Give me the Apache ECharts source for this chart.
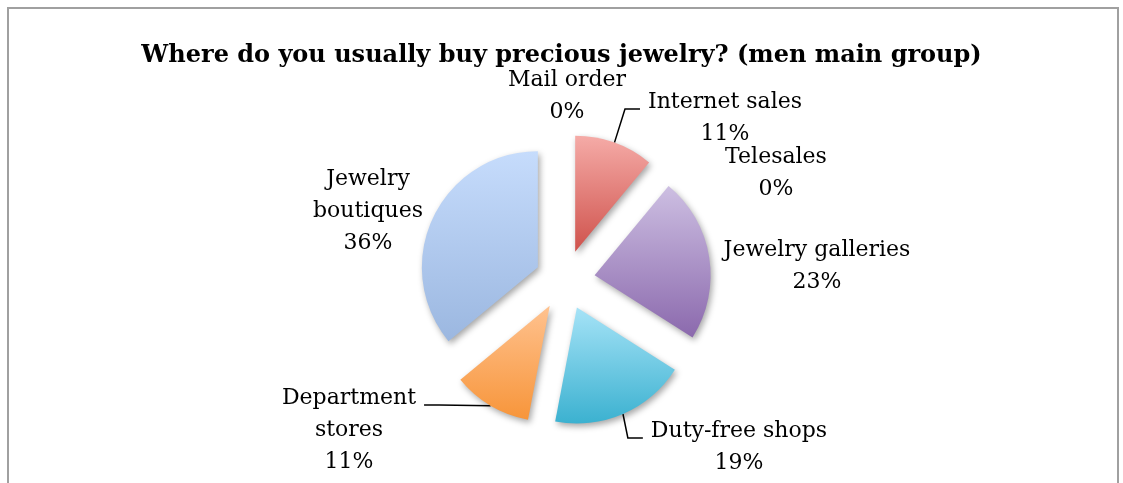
<!DOCTYPE html>
<html>
<head>
<meta charset="utf-8">
<script src="https://cdn.jsdelivr.net/npm/echarts@6/dist/echarts.min.js"></script>
<style>
  html, body { margin: 0; padding: 0; background: #ffffff; }
  #chart { width: 1123px; height: 483px; }
</style>
</head>
<body>
<div id="chart"></div>
<script>
// Survey answers, clockwise from 12 o'clock
const categories = ['Mail order', 'Internet sales', 'Telesales', 'Jewelry galleries', 'Duty-free shops', 'Department stores', 'Jewelry boutiques'];
const shares = [0, 11, 0, 23, 19, 11, 36]; // percent of respondents

// Display text for the labels (line breaks where the name wraps)
const labelNames = ['Mail order', 'Internet sales', 'Telesales', 'Jewelry galleries', 'Duty-free shops', 'Department\nstores', 'Jewelry\nboutiques'];

// Vertical gradient for each slice: light at the top, deeper at the bottom
const topColors = ['#f7b4b0', '#f5aba7', '#f7b4b0', '#cdbfe2', '#a6e3f7', '#ffc28f', '#c6dcfc'];
const bottomColors = ['#d0504b', '#cf524c', '#d0504b', '#8b69ad', '#3bb1d0', '#f7953a', '#9bb7e0'];

// Label block centres, and which labels get a leader line
const labelPos = [[567, 96], [725, 118], [776, 173], [817, 266], [739, 447], [349, 430], [368, 211]];
const hasLeader = [false, true, false, false, true, true, false];

const FONT = 'DejaVu Serif';
const CENTER = [565, 280];
const RADIUS = 116;
const EXPLODE = 30;     // how far each non-empty slice is pulled out
const LINE_H = 32;      // label line height
const LEADER_RUN = 15;  // horizontal run of a leader line next to its label
const LEADER_GAP = 8;   // space between leader line and label text

const chart = echarts.init(document.getElementById('chart'));

const total = shares.reduce((a, b) => a + b, 0);

// Every slice is drawn by its own pie series (all share the same data,
// only one item visible), so it can be pulled out along its mid-angle.
let cumulative = 0;
const series = categories.map((name, i) => {
  const mid = (cumulative + shares[i] / 2) / total * 2 * Math.PI;
  cumulative += shares[i];
  const off = shares[i] > 0 ? EXPLODE : 0;
  const center = [CENTER[0] + off * Math.sin(mid), CENTER[1] - off * Math.cos(mid)];
  // point on the slice's outer arc where its leader line starts
  const anchor = [center[0] + RADIUS * Math.sin(mid), center[1] - RADIUS * Math.cos(mid)];

  const data = categories.map((n, j) => {
    const visible = j === i;
    return {
      name: n,
      value: shares[j],
      itemStyle: visible ? {
        color: new echarts.graphic.LinearGradient(0, 0, 0, 1, [
          { offset: 0, color: topColors[j] },
          { offset: 1, color: bottomColors[j] }
        ]),
        shadowBlur: 6,
        shadowOffsetX: 2,
        shadowOffsetY: 3,
        shadowColor: 'rgba(0,0,0,0.35)'
      } : { color: 'rgba(0,0,0,0)', shadowColor: 'rgba(0,0,0,0)' },
      label: { show: visible },
      labelLine: { show: visible && hasLeader[j] }
    };
  });

  return {
    type: 'pie',
    name: name,
    center: center,
    radius: RADIUS,
    startAngle: 90,
    clockwise: true,
    selectedMode: false,
    avoidLabelOverlap: false,
    silent: true,
    emphasis: { disabled: true },
    itemStyle: { borderWidth: 0 },
    label: {
      formatter: (p) => labelNames[p.dataIndex] + '\n' + p.value + '%',
      fontFamily: FONT,
      fontSize: 22,
      lineHeight: LINE_H,
      color: '#000000',
      align: 'center'
    },
    labelLine: {
      length: 12,
      length2: 14,
      lineStyle: { color: '#000000', width: 1.5 }
    },
    labelLayout: function (params) {
      const idx = params.dataIndex;
      const p = labelPos[idx];
      const out = { x: p[0], y: p[1], align: 'center', verticalAlign: 'middle' };
      if (idx === i && hasLeader[idx]) {
        const w = params.labelRect.width;
        const lines = labelNames[idx].split('\n').length + 1;
        const top = p[1] - lines * LINE_H / 2;
        const attachY = top + 23;
        const rightSide = p[0] > anchor[0];
        const endX = rightSide ? p[0] - w / 2 - LEADER_GAP : p[0] + w / 2 + LEADER_GAP;
        const bendX = rightSide ? endX - LEADER_RUN : endX + LEADER_RUN;
        out.labelLinePoints = [anchor, [bendX, attachY], [endX, attachY]];
      }
      return out;
    },
    data: data
  };
});

chart.setOption({
  backgroundColor: '#ffffff',
  animation: false,
  title: {
    text: 'Where do you usually buy precious jewelry? (men main group)',
    left: 'center',
    top: 39,
    textStyle: { fontFamily: FONT, fontWeight: 'bold', fontSize: 24, color: '#000000' }
  },
  graphic: [{
    type: 'rect',
    shape: { x: 8, y: 8, width: 1110, height: 520 },
    style: { fill: 'none', stroke: '#a0a0a0', lineWidth: 2 },
    silent: true,
    z: -1
  }],
  series: series
});
</script>
</body>
</html>
